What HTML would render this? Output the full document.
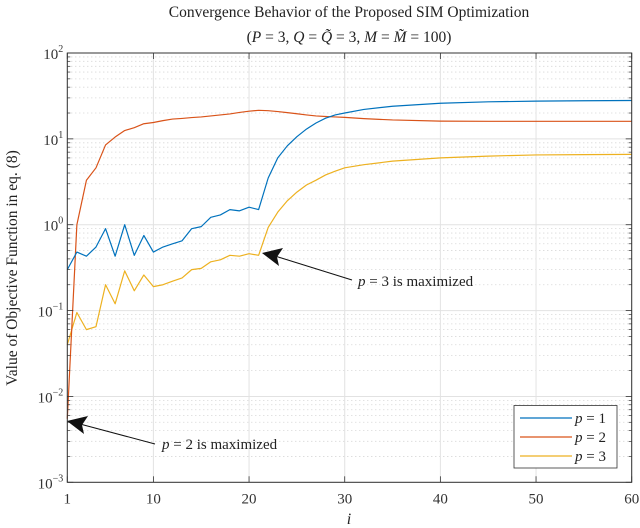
<!DOCTYPE html>
<html><head><meta charset="utf-8"><style>
body{margin:0;background:#fff}
svg{display:block;font-family:"Liberation Serif",serif}
</style></head><body>
<svg id="chart" width="640" height="528" viewBox="0 0 640 528" xmlns="http://www.w3.org/2000/svg">
<text x="349" y="17" font-size="15.5" text-anchor="middle" fill="#222">Convergence Behavior of the Proposed SIM Optimization</text>
<text x="349" y="42" font-size="15.5" text-anchor="middle" fill="#222">(<tspan font-style="italic">P</tspan> = 3, <tspan font-style="italic">Q</tspan> = <tspan font-style="italic">Q̃</tspan> = 3, <tspan font-style="italic">M</tspan> = <tspan font-style="italic">M̃</tspan> = 100)</text>
<g id="grid"></g>
<g id="series"></g>
<g id="axes"></g>
<text transform="translate(17,268) rotate(-90)" font-size="15.5" text-anchor="middle" fill="#222">Value of Objective Function in eq. (8)</text>
<text x="349" y="524" font-size="16" font-style="italic" text-anchor="middle" fill="#222">i</text>
<g>
<line x1="352" y1="280" x2="275" y2="256" stroke="#111" stroke-width="1"/>
<polygon points="262,253 283,248 277,257 279,266" fill="#111"/>
<text x="358" y="286" font-size="15" fill="#222"><tspan font-style="italic">p</tspan> = 3 is maximized</text>
</g>
<g>
<line x1="155" y1="444" x2="80" y2="424" stroke="#111" stroke-width="1"/>
<polygon points="67,421 88,416 82,425 84,434" fill="#111"/>
<text x="162" y="449" font-size="15" fill="#222"><tspan font-style="italic">p</tspan> = 2 is maximized</text>
</g>
<g>
<rect x="514" y="405.5" width="103" height="62.5" fill="#fff" stroke="#333" stroke-width="0.8"/>
<line x1="520" y1="418" x2="572" y2="418" stroke="#0072BD" stroke-width="1.3"/>
<text x="575" y="423" font-size="15" fill="#222"><tspan font-style="italic">p</tspan> = 1</text>
<line x1="520" y1="437" x2="572" y2="437" stroke="#D95319" stroke-width="1.3"/>
<text x="575" y="442" font-size="15" fill="#222"><tspan font-style="italic">p</tspan> = 2</text>
<line x1="520" y1="456" x2="572" y2="456" stroke="#EDB120" stroke-width="1.3"/>
<text x="575" y="461" font-size="15" fill="#222"><tspan font-style="italic">p</tspan> = 3</text>
</g>
</svg>
<script>
const iterations = [1,2,3,4,5,6,7,8,9,10,11,12,13,14,15,16,17,18,19,20,21,22,23,24,25,26,27,28,29,30,32,35,40,45,50,55,60];
const p1Values = [0.3,0.48,0.43,0.55,0.9,0.43,1.0,0.44,0.75,0.48,0.55,0.6,0.65,0.9,0.95,1.22,1.3,1.5,1.45,1.6,1.5,3.5,6,8.3,10.6,13,15.3,17.4,19,20,22,24,26,27,27.5,27.8,28];
const p2Values = [0.0055,1.0,3.3,4.6,8.5,10.5,12.5,13.5,15,15.5,16.3,17,17.3,17.7,18,18.5,19,19.5,20.3,21,21.5,21.3,20.8,20.2,19.6,19,18.5,18.2,18,17.8,17.2,16.6,16.1,16,16,16,16];
const p3Values = [0.04,0.095,0.06,0.065,0.2,0.12,0.29,0.17,0.26,0.19,0.2,0.22,0.24,0.3,0.31,0.37,0.39,0.44,0.43,0.46,0.44,0.93,1.4,1.9,2.4,2.9,3.3,3.8,4.2,4.6,5.0,5.5,6.0,6.3,6.5,6.55,6.6];
const xTicks = [1,10,20,30,40,50,60];
const yDecades = [-3,-2,-1,0,1,2];

const NS="http://www.w3.org/2000/svg";
const L=67.3,R=631.7,T=53,B=482.3;
const xs=v=>L+(v-1)/(60-1)*(R-L);
const ys=v=>B-(Math.log10(v)+3)/5*(B-T);
function mk(tag,attrs,parent){const e=document.createElementNS(NS,tag);for(const k in attrs)e.setAttribute(k,attrs[k]);parent.appendChild(e);return e;}
const grid=document.getElementById('grid'),axes=document.getElementById('axes'),series=document.getElementById('series');
mk('rect',{x:L,y:T,width:R-L,height:B-T,fill:'#fff'},grid);
for(let d=-3;d<2;d++){for(let m=2;m<10;m++){const y=ys(m*Math.pow(10,d));
 const g=mk('line',{x1:L,x2:R,y1:y,y2:y,stroke:'#c8c8c8','stroke-width':0.8,'stroke-dasharray':'1,3'},grid);
 
 
 mk('line',{x1:L,x2:L+3,y1:y,y2:y,stroke:'#333','stroke-width':0.7},axes);
 mk('line',{x1:R,x2:R-3,y1:y,y2:y,stroke:'#333','stroke-width':0.7},axes);
}}
yDecades.forEach(d=>{const y=ys(Math.pow(10,d));
 const g=mk('line',{x1:L,x2:R,y1:y,y2:y,stroke:'#e2e2e2','stroke-width':1},grid);
 
 
 mk('line',{x1:L,x2:L+6,y1:y,y2:y,stroke:'#333','stroke-width':0.8},axes);
 mk('line',{x1:R,x2:R-6,y1:y,y2:y,stroke:'#333','stroke-width':0.8},axes);
 const t=mk('text',{x:L-4,y:y+6,'font-size':15,'text-anchor':'end',fill:'#333'},axes);
 
 
 t.textContent='10';
 const s=mk('tspan',{dy:-7,'font-size':10},t);s.textContent=(d<0?'\u2212'+(-d):String(d));
});
xTicks.forEach(v=>{const x=xs(v);
 const g=mk('line',{x1:x,x2:x,y1:T,y2:B,stroke:'#e2e2e2','stroke-width':1},grid);
 
 
 mk('line',{x1:x,x2:x,y1:B,y2:B-6,stroke:'#333','stroke-width':0.8},axes);
 mk('line',{x1:x,x2:x,y1:T,y2:T+6,stroke:'#333','stroke-width':0.8},axes);
 const t=mk('text',{x:x,y:B+21,'font-size':15,'text-anchor':'middle',fill:'#333'},axes);
 
 
 t.textContent=v;
});
const frame=mk('rect',{x:L,y:T,width:R-L,height:B-T,fill:'none',stroke:'#333','stroke-width':1},axes);


function line(vals,color,name){
 const d=vals.map((v,i)=>(i?'L':'M')+xs(iterations[i]).toFixed(2)+','+ys(v).toFixed(2)).join('');
 const p=mk('path',{d:d,fill:'none',stroke:color,'stroke-width':1.2,'stroke-linejoin':'round'},series);
 
 
}
line(p3Values,'#EDB120','series-p3');
line(p2Values,'#D95319','series-p2');
line(p1Values,'#0072BD','series-p1');
</script>
</body></html>
